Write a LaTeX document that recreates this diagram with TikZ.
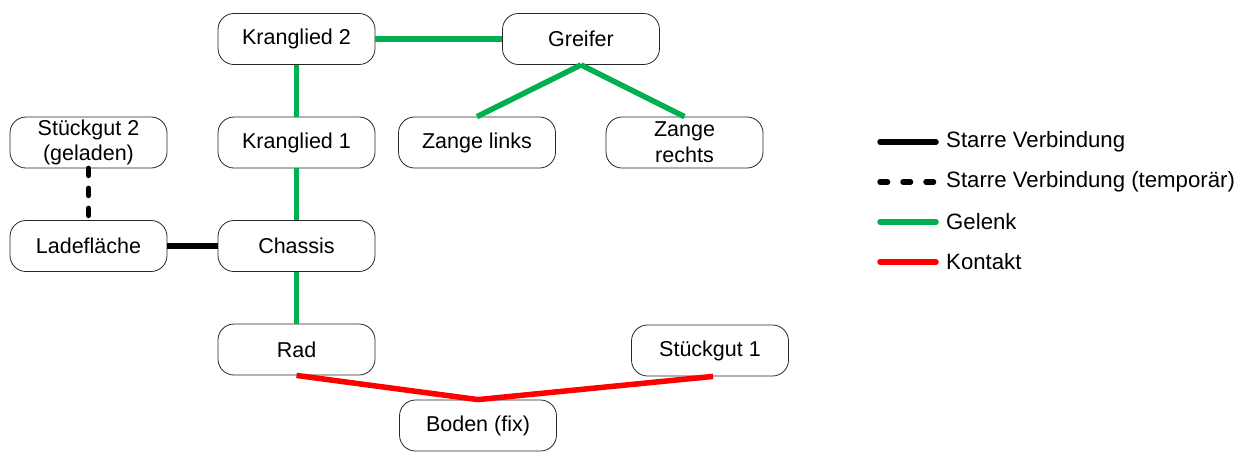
\documentclass[tikz,border=0pt]{standalone}
\usepackage{fontspec}
\setmainfont{Liberation Sans}
\definecolor{gelenkgreen}{RGB}{0,176,80}
\definecolor{kontaktred}{RGB}{255,0,0}
\tikzset{
  body/.style={draw=black!85,line width=0.8pt,fill=white,rounded corners=16pt,minimum width=157pt,minimum height=51pt,align=center,inner sep=2pt},
  starr/.style={draw=black,line width=5.5pt},
  starrtemp/.style={draw=black,line width=5.5pt,line cap=round,dash pattern=on 7pt off 13pt},
  legtemp/.style={draw=black,line width=5.5pt,line cap=round,dash pattern=on 7.5pt off 15.5pt},
  gelenk/.style={draw=gelenkgreen,line width=5.5pt},
  kontakt/.style={draw=kontaktred,line width=5.5pt},
  legtext/.style={anchor=west,inner sep=0pt,font=\fontsize{22.2}{26}\selectfont}
}
\begin{document}
\begin{tikzpicture}[x=1pt,y=-1pt,font=\fontsize{21.5}{25.8}\selectfont]
        \useasboundingbox (0,0) rectangle (1244,451);
        \begin{scope}[every node/.style={body}]
        \node (kr2) at (296.5,39) {Kranglied 2};
        \node (greif) at (581,39) {Greifer};
        \node (st2) at (88.5,142.5) {St\"uckgut 2\\(geladen)};
        \node (kr1) at (296.5,142.5) {Kranglied 1};
        \node (zl) at (477,142.5) {Zange links};
        \node (zr) at (684.5,142.5) {Zange\\rechts};
        \node (lade) at (88.5,246) {Ladefl\"ache};
        \node (chassis) at (296.5,246) {Chassis};
        \node (rad) at (296.5,349.5) {Rad};
        \node (st1) at (710,350.5) {St\"uckgut 1};
        \node (boden) at (478,425.5) {Boden (fix)};
        \end{scope}
        \begin{scope}[every edge/.style={gelenk}]
        \path (kr2) edge (greif);
        \path (kr2) edge (kr1);
        \path (kr1) edge (chassis);
        \path (chassis) edge (rad);
        \path (greif.south) edge (zl.north);
        \path (greif.south) edge (zr.north);
        \end{scope}
        \path (lade) edge[starr] (chassis);
        \path (st2) edge[starrtemp] (lade);
        \begin{scope}[every edge/.style={kontakt}]
        \path (rad.south) edge (boden.north);
        \path (boden.north) edge ([xshift=3pt]st1.south);
        \end{scope}
        % Legende
        \foreach \name/\style/\y/\txt in {a/starr/142/Starre Verbindung,
            b/legtemp/182/Starre Verbindung (tempor\"ar),
            c/gelenk/222/Gelenk,
            d/kontakt/262/Kontakt}{
          \coordinate (leg\name1) at (880,\y);
          \coordinate (leg\name2) at (936,\y);
          \draw[\style,line cap=round] (leg\name1) -- (leg\name2);
          \node[legtext] (legtxt\name) at (946,\y) {\txt};
        }
        \end{tikzpicture}
\end{document}
